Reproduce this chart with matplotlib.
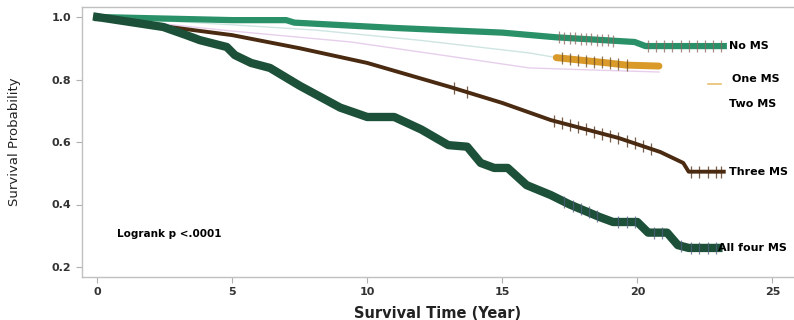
import numpy as np
import matplotlib
matplotlib.use("Agg")
import matplotlib.pyplot as plt

# Kaplan-Meier curves (year, survival)
no_ms_t = [0, 5, 7, 7.3, 11, 15, 17, 19.9, 20.3, 23.2]
no_ms_s = [1.0, 0.99, 0.99, 0.982, 0.965, 0.95, 0.935, 0.92, 0.907, 0.907]

one_ms_t = [0, 5, 8.1, 12, 16, 17.0, 18.9, 19.6, 20.8]
one_ms_s = [1.0, 0.975, 0.958, 0.925, 0.885, 0.87, 0.853, 0.846, 0.843]

two_ms_t = [0, 5, 9.4, 13, 16, 18.5, 20.8]
two_ms_s = [1.0, 0.955, 0.92, 0.875, 0.837, 0.83, 0.824]

three_ms_t = [0, 2.5, 5, 7.5, 10, 13.07, 15, 16.8, 18.6, 19.3, 20.85, 21.7, 21.9, 23.2]
three_ms_s = [1.0, 0.97, 0.942, 0.9, 0.853, 0.776, 0.725, 0.67, 0.629, 0.613, 0.568, 0.533, 0.505, 0.505]

four_ms_t = [0, 2.45, 3.3, 3.8, 4.8, 5.1, 5.7, 6.4, 7.5, 9, 10, 11, 12, 13, 13.7,
             14.2, 14.7, 15.2, 15.9, 16.8, 17.5, 18.6, 19.1, 20.0, 20.4, 21.1, 21.5, 21.9, 23.0]
four_ms_s = [1.0, 0.968, 0.942, 0.926, 0.904, 0.878, 0.853, 0.837, 0.78, 0.71, 0.68, 0.68,
             0.64, 0.59, 0.585, 0.533, 0.517, 0.517, 0.462, 0.43, 0.40, 0.36, 0.344, 0.344,
             0.31, 0.31, 0.27, 0.261, 0.261]

# censoring times (roughly read; dense near the end of follow-up)
no_ms_cens = [17.1, 17.3, 17.5, 17.7, 17.9, 18.1, 18.3, 18.5, 18.7, 18.9, 19.1,
              20.4, 20.7, 21.0, 21.3, 21.6, 21.9, 22.2, 22.5, 22.8, 23.1]
one_ms_cens = [17.2, 17.5, 17.8, 18.1, 18.4, 18.7, 19.0, 19.3, 19.6]
three_ms_cens = [13.2, 13.7, 16.9, 17.2, 17.5, 17.8, 18.1, 18.4, 18.7, 19.0, 19.3,
                 19.6, 19.9, 20.2, 20.5, 22.0, 22.3, 22.6, 22.9, 23.1]
four_ms_cens = [17.3, 17.6, 17.9, 18.2, 18.5, 19.3, 19.6, 19.9, 20.6, 20.9,
                21.6, 22.0, 22.3, 22.6, 22.9]

labels = ["No MS", "One MS", "Two MS", "Three MS", "All four MS"]
label_y = [0.907, 0.80, 0.722, 0.505, 0.262]

x_ticks = [0, 5, 10, 15, 20, 25]
y_ticks = [0.2, 0.4, 0.6, 0.8, 1.0]

fig = plt.figure(figsize=(7.94, 3.2), dpi=100)
ax = fig.add_axes([82 / 794, 43 / 320, 712 / 794, 270 / 320])

# faint curves (One MS / Two MS)
ax.plot(one_ms_t, one_ms_s, color="#5fa9a0", lw=1.0, alpha=0.3)
ax.plot(two_ms_t, two_ms_s, color="#b060c0", lw=1.0, alpha=0.3)
seg = [i for i, t in enumerate(one_ms_t) if t >= 17]
ax.plot([one_ms_t[i] for i in seg], [one_ms_s[i] for i in seg],
        color="#d99a2a", lw=5, solid_capstyle="round")

ax.plot(no_ms_t, no_ms_s, color="#2a9068", lw=4.5, solid_joinstyle="round")
ax.plot(three_ms_t, three_ms_s, color="#4a2a10", lw=2.8)
ax.plot(four_ms_t, four_ms_s, color="#1d5038", lw=6, solid_joinstyle="round")

# censoring ticks placed on the drawn curves
for t, s, cens, c in [(no_ms_t, no_ms_s, no_ms_cens, "#8a6a60"),
                      (one_ms_t, one_ms_s, one_ms_cens, "#6a4a20"),
                      (three_ms_t, three_ms_s, three_ms_cens, "#4a2a10"),
                      (four_ms_t, four_ms_s, four_ms_cens, "#506080")]:
    cy = np.interp(cens, t, s)
    ax.plot(cens, cy, ls="none", marker="|", ms=8, mew=0.9, color=c, alpha=0.75)

ax.plot([0], [1.0], marker="s", ms=5, color="#1d5038")

# curve labels at the right
label_x = [23.4, 23.5, 23.4, 23.4, 23.0]
for lab, x, y in zip(labels, label_x, label_y):
    ax.text(x, y, lab, fontsize=8, fontweight="bold", va="center", ha="left")
ax.plot([22.6, 23.1], [0.787, 0.787], color="#e8c070", lw=1.2)

ax.text(0.75, 0.307, "Logrank p <.0001", fontsize=7.5, fontweight="bold",
        va="center", ha="left")

ax.set_xlim(-0.56, 25.8)
ax.set_ylim(0.168, 1.032)
ax.set_xticks(x_ticks)
ax.set_yticks(y_ticks)
ax.set_xticklabels([str(v) for v in x_ticks], fontsize=8, fontweight="bold")
ax.set_yticklabels(["%.1f" % v for v in y_ticks], fontsize=8, fontweight="bold")
ax.tick_params(colors="#b0b0b0", labelcolor="#333333", length=4, width=0.8)

for side in ["left", "bottom", "top"]:
    ax.spines[side].set_color("#c0c0c0")
    ax.spines[side].set_linewidth(1.0)
ax.spines["right"].set_visible(False)

ax.set_xlabel("Survival Time (Year)", fontsize=10.5, fontweight="bold",
              color="#222222", labelpad=6)
ax.set_ylabel("Survival Probability", fontsize=9.5, color="#222222", labelpad=22)

fig.savefig("out.png", dpi=100)
